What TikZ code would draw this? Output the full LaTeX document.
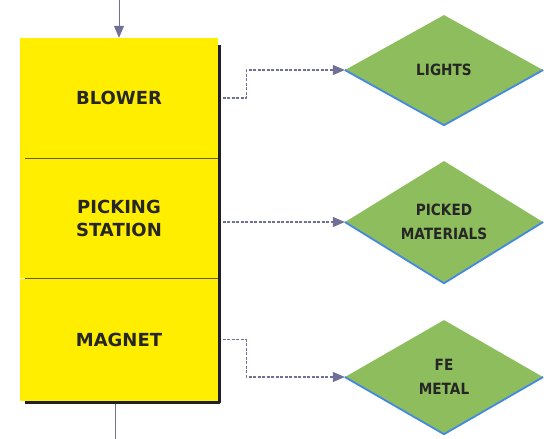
\documentclass[tikz,border=0pt]{standalone}
\usepackage{fontspec}
\newfontfamily\stagefont{DejaVu Sans}
\newfontfamily\outfont[FakeStretch=0.88]{DejaVu Sans}
\usetikzlibrary{shapes.geometric,arrows.meta,positioning}
\definecolor{stageyellow}{RGB}{255,238,0}
\definecolor{outgreen}{RGB}{141,189,92}
\definecolor{edgeblue}{RGB}{66,136,228}
\definecolor{flowgray}{RGB}{112,112,150}
\definecolor{shadowdark}{RGB}{30,30,45}
\begin{document}
\begin{tikzpicture}[x=1pt,y=-1pt,line join=round,
		stage/.style={rectangle,fill=stageyellow,minimum width=198pt,minimum height=120pt,inner sep=0pt,align=center,text=black!85,font=\stagefont\bfseries\fontsize{18}{23}\selectfont},
		product/.style={diamond,fill=outgreen,minimum width=198pt,minimum height=110pt,inner sep=0pt,align=center,text=black!85,font=\outfont\bfseries\fontsize{15.5}{24}\selectfont},
		flow/.style={flowgray,line width=1.1pt,dash pattern=on 3pt off 1.5pt,-{Triangle[length=12pt,width=10pt]}}]
					\useasboundingbox (0,0) rectangle (547,439);
					% separator stages
					\node[stage] (blower) at (119,98) {BLOWER};
					\node[stage,below=0pt of blower] (picking) {PICKING\\STATION};
					\node[stage,below=0pt of picking,minimum height=122pt] (magnet) {MAGNET};
					\draw[olive!60!black,line width=0.8pt] ([xshift=5pt]picking.north west) -- (picking.north east);
					\draw[olive!60!black,line width=0.8pt] ([xshift=5pt]magnet.north west) -- (magnet.north east);
					% outputs
					\node[product] (lights) at (444,70) {LIGHTS};
					\node[product,minimum height=114pt] (picked) at (444,222) {PICKED\\MATERIALS};
					\node[product,minimum height=114pt] (femetal) at (444,377) {FE\\METAL};
					\foreach \d in {lights,picked,femetal}
						\draw[edgeblue,line width=1.8pt] (\d.west) -- (\d.south) -- (\d.east);
					% flows
					\coordinate (feed) at (119,0);
					\coordinate (discharge) at (115,439);
					\draw[flowgray,line width=1pt,-{Triangle[length=12pt,width=10pt]}] (feed) -- (blower.north);
					\draw[flowgray,line width=1pt] (magnet.south -| discharge) -- (discharge);
					\draw[flow] (blower.east) -- ++(28,0) |- (lights.west);
					\draw[flow] (picking.east |- picked.west) -- (picked.west);
					\draw[flow] (magnet.east) -- ++(28,0) |- (femetal.west);
					\draw[shadowdark,line width=2.5pt] ([shift={(1.5,7)}]blower.north east) -- ([shift={(1.5,1.5)}]magnet.south east) -- ([shift={(5,1.5)}]magnet.south west);
				\end{tikzpicture}
\end{document}
